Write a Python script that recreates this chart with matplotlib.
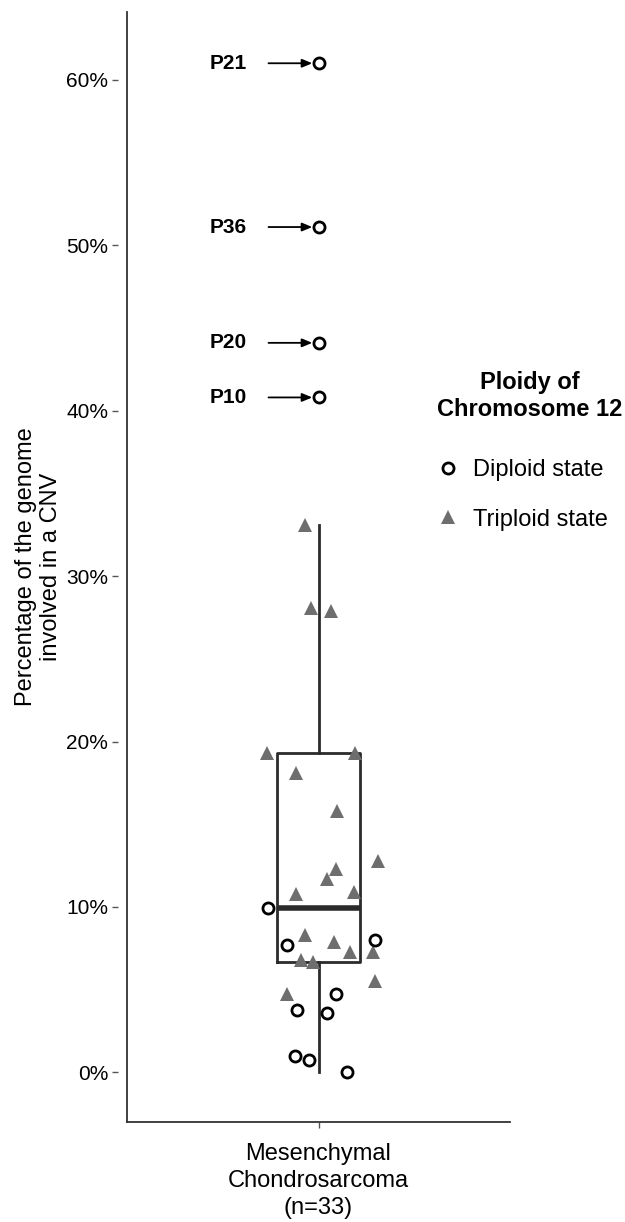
import matplotlib.pyplot as plt
import numpy as np
from matplotlib.lines import Line2D

plt.rcParams['font.family'] = ['Liberation Sans', 'DejaVu Sans']

# Datos (% del genoma con CNV)
triploide = [33.1, 28.1, 27.9, 19.3, 19.3, 18.1, 15.8, 12.76, 12.3, 11.7,
             10.8, 10.9, 8.3, 7.9, 7.3, 7.3, 6.8, 6.7, 5.5, 4.76]
triploide_jit = [-0.042, -0.024, 0.039, -0.162, 0.114, -0.071, 0.057, 0.186, 0.055, 0.026,
                 -0.071, 0.112, -0.042, 0.050, 0.099, 0.170, -0.055, -0.018, 0.177, -0.098]
diploide = [9.93, 7.72, 8.0, 4.76, 3.75, 3.6, 0.97, 0.73, 0.0]
diploide_jit = [-0.159, -0.100, 0.178, 0.055, -0.068, 0.026, -0.074, -0.030, 0.088]
atipicos = [61.0, 51.1, 44.1, 40.8]
atipicos_nombres = ["P21", "P36", "P20", "P10"]

categoria = "Mesenchymal\nChondrosarcoma\n(n=33)"
yticks = [0, 10, 20, 30, 40, 50, 60]
ytick_labels = ["0%", "10%", "20%", "30%", "40%", "50%", "60%"]

todos = np.array(triploide + diploide + atipicos)

fig = plt.figure(figsize=(6.25, 12.22), dpi=100)
ax = fig.add_axes([0.2032, 0.0818, 0.6128, 0.9084])

# Eje y separado de las marcas (como en la figura original)
ax.spines["left"].set_position(("outward", 6.5))
ax.spines["left"].set_visible(False)
ax.spines["top"].set_visible(False)
ax.spines["right"].set_visible(False)
ax.spines["bottom"].set_color("#333333")
ax.spines["bottom"].set_linewidth(1.3)

# Caja (sin puntos atípicos, se dibujan aparte)
ax.boxplot(todos, positions=[0], widths=0.26, whis=1.5, showfliers=False, showcaps=False,
           boxprops=dict(color="#2b2b2b", linewidth=2),
           whiskerprops=dict(color="#2b2b2b", linewidth=2),
           medianprops=dict(color="#2b2b2b", linewidth=4))

# Puntos
ax.plot(triploide_jit, triploide, linestyle="none", marker="^", markersize=10,
        color="#6e6e6e", markeredgewidth=0, zorder=3)
ax.plot(diploide_jit, diploide, linestyle="none", marker="o", markersize=8,
        markerfacecolor="white", markeredgecolor="black", markeredgewidth=2, zorder=3)
ax.plot([0] * len(atipicos), atipicos, linestyle="none", marker="o", markersize=8,
        markerfacecolor="white", markeredgecolor="black", markeredgewidth=2, zorder=3)

# Etiquetas de pacientes con flechas
for nombre, v in zip(atipicos_nombres, atipicos):
    ax.annotate("", xy=(0, v), xytext=(-36, 0), textcoords="offset points",
                arrowprops=dict(arrowstyle="-|>,head_length=0.6,head_width=0.25",
                                color="black", lw=1.3, shrinkA=0, shrinkB=4.5))
    ax.annotate(nombre, xy=(0, v), xytext=(-65, 0), textcoords="offset points",
                ha="center", va="center", fontsize=15, fontweight="bold")

ax.set_xlim(-0.6, 0.6)
ax.set_ylim(-3.0, 64.1)
ax.axvline(-0.6, color="#333333", linewidth=1.3, clip_on=False)
ax.set_yticks(yticks)
ax.set_yticklabels(ytick_labels, fontsize=15)
ax.set_xticks([0])
ax.set_xticklabels([categoria], fontsize=17, linespacing=1.3)
ax.tick_params(axis="y", length=4, width=1, color="#555555", pad=3)
ax.tick_params(axis="x", length=4, width=1, color="#555555", pad=11)
ax.set_ylabel("Percentage of the genome\ninvolved in a CNV", fontsize=17, linespacing=1.15)
ax.yaxis.set_label_coords(-0.17, 0.5)

# Leyenda
fig.text(0.848, 0.676, "Ploidy of\nChromosome 12", ha="center", va="center",
         fontsize=17, fontweight="bold", linespacing=1.2)
handles = [
    Line2D([], [], linestyle="none", marker="o", markersize=8, markerfacecolor="white",
           markeredgecolor="black", markeredgewidth=2, label="Diploid state"),
    Line2D([], [], linestyle="none", marker="^", markersize=10, color="#6e6e6e",
           markeredgewidth=0, label="Triploid state"),
]
fig.legend(handles=handles, loc="center left", bbox_to_anchor=(0.679, 0.595),
           frameon=False, fontsize=17, borderpad=0, labelspacing=1.17,
           handlelength=1.0, handletextpad=0.56)

fig.savefig("out.png", dpi=100)
